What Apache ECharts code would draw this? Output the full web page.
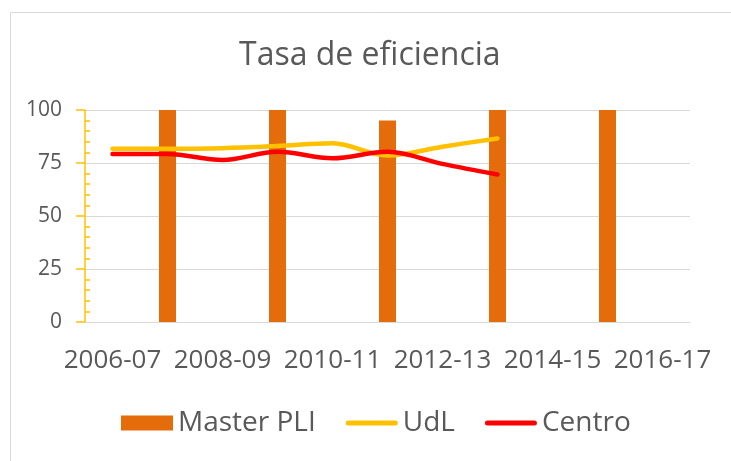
<!DOCTYPE html>
<html>
<head>
<meta charset="utf-8">
<script src="https://cdn.jsdelivr.net/npm/echarts@6/dist/echarts.min.js"></script>
<style>
html,body{margin:0;padding:0;background:#fff;}
#chart{width:731px;height:461px;}
</style>
</head>
<body>
<div id="chart"></div>
<script>
const categories = ['2006-07','2007-08','2008-09','2009-10','2010-11','2011-12','2012-13','2013-14','2014-15','2015-16','2016-17'];
const masterPLI = [null, 100, null, 100, null, 95, null, 100, null, 100, null];
const udl = [81.7, 81.7, 82, 83, 84.3, 78.5, 82.7, 86.6, null, null, null];
const centro = [79.2, 79.2, 76.4, 80.3, 77.2, 80.3, 74.6, 69.6, null, null, null];
const yTicks = [0, 25, 50, 75, 100];

const FONT = 'Open Sans';
const TXT = '#595959';
const LINE_ICON = 'path://M0,0 M52,15 M2.5,5 L49.5,5 A2.5,2.5 0 0 1 49.5,10 L2.5,10 A2.5,2.5 0 0 1 2.5,5 Z';

const chart = echarts.init(document.getElementById('chart'), null, {renderer: 'canvas'});
chart.setOption({
  animation: false,
  backgroundColor: '#fff',
  textStyle: {fontFamily: FONT, color: TXT},
  graphic: [{
    type: 'rect', silent: true, z: -10,
    shape: {x: 10.5, y: 12.5, width: 740, height: 470},
    style: {fill: 'none', stroke: '#d9d9d9', lineWidth: 1}
  }],
  title: {
    text: 'Tasa de eficiencia',
    left: 234, top: 35,
    textStyle: {fontFamily: FONT, fontSize: 32, fontWeight: 'normal', color: TXT}
  },
  legend: {
    left: 116, top: 404,
    itemWidth: 52, itemHeight: 15, itemGap: 30,
    textStyle: {fontFamily: FONT, fontSize: 28, color: TXT},
    data: [
      {name: 'Master PLI', icon: 'rect'},
      {name: 'UdL', icon: LINE_ICON, itemStyle: {color: '#FFC000', borderWidth: 0}},
      {name: 'Centro', icon: LINE_ICON, itemStyle: {color: '#FF0000', borderWidth: 0}}
    ]
  },
  grid: {left: 85, right: 41, top: 110, bottom: 139, containLabel: false},
  xAxis: {
    type: 'category',
    data: categories,
    boundaryGap: true,
    axisLine: {show: true, lineStyle: {color: '#d9d9d9', width: 1}},
    axisTick: {show: false},
    axisLabel: {interval: 1, margin: 26, fontFamily: FONT, fontSize: 26, color: TXT},
    splitLine: {show: false}
  },
  yAxis: [{
    type: 'value', min: yTicks[0], max: yTicks[yTicks.length - 1], interval: 25,
    position: 'left',
    axisLine: {show: true, lineStyle: {color: '#FFC000', width: 1.5}},
    axisTick: {show: true, length: 9, lineStyle: {color: '#FFC000', width: 1.5}},
    axisLabel: {margin: 23, fontFamily: FONT, fontSize: 21, color: TXT},
    splitLine: {show: true, lineStyle: {color: '#d9d9d9', width: 1}}
  }, {
    type: 'value', min: yTicks[0], max: yTicks[yTicks.length - 1], interval: 25,
    position: 'left',
    axisLine: {show: false},
    axisTick: {show: false, inside: true},
    minorTick: {show: true, splitNumber: 5, length: 5, lineStyle: {color: '#FFC000', width: 1.5}},
    axisLabel: {show: false},
    splitLine: {show: false}
  }],
  series: [{
    name: 'Master PLI',
    type: 'bar',
    data: masterPLI,
    barWidth: 17,
    itemStyle: {color: '#E46C0A'}
  }, {
    name: 'UdL',
    type: 'line',
    data: udl,
    smooth: 0.35,
    symbol: 'none',
    lineStyle: {color: '#FFC000', width: 4.5, cap: 'round', join: 'round'},
    itemStyle: {color: '#FFC000'}
  }, {
    name: 'Centro',
    type: 'line',
    data: centro,
    smooth: 0.35,
    symbol: 'none',
    lineStyle: {color: '#FF0000', width: 4.5, cap: 'round', join: 'round'},
    itemStyle: {color: '#FF0000'}
  }]
});
</script>
</body>
</html>
